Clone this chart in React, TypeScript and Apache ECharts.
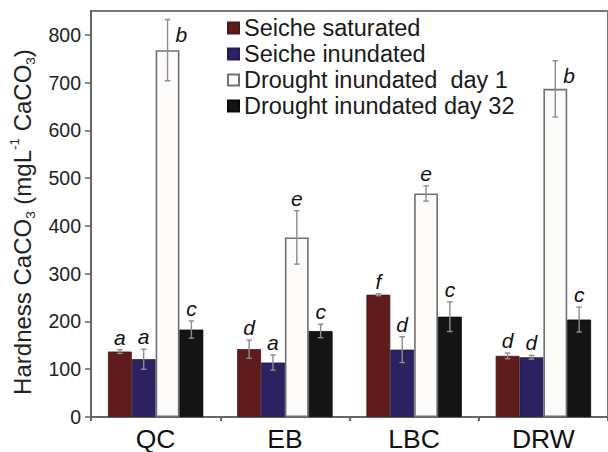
import React, { useEffect, useRef } from "react";
import * as echarts from "echarts";

const categories = ["QC", "EB", "LBC", "DRW"];
const seriesNames = [
  "Seiche saturated",
  "Seiche inundated",
  "Drought inundated  day 1",
  "Drought inundated day 32",
];
const seicheSaturated = [137, 142, 256, 128];
const seicheSaturatedErr = [4, 19, 2, 6];
const seicheInundated = [121, 114, 141, 125];
const seicheInundatedErr = [21, 16, 27, 4];
const droughtDay1 = [768, 376, 468, 687];
const droughtDay1Err = [64, 56, 16, 59];
const droughtDay32 = [183, 180, 210, 204];
const droughtDay32Err = [18, 14, 31, 26];

const lettersSS = ["a", "d", "f", "d"];
const lettersSI = ["a", "a", "d", "d"];
const lettersD1 = ["b", "e", "e", "b"];
const lettersD32 = ["c", "c", "c", "c"];
const placeD1 = ["right", "top", "top", "right"];

const yTicks = [0, 100, 200, 300, 400, 500, 600, 700, 800];
const yTitle = "{n|Hardness CaCO}{sub|3}{n| (mgL}{sup|-1}{n| CaCO}{sub|3}{n|)}";

const FONT = "'Liberation Sans', Arial, sans-serif";
const GAP = 0.262;

export default function App() {
  const ref = useRef<HTMLDivElement>(null);
  useEffect(() => {
    if (!ref.current) return;
    const chart = echarts.init(ref.current, undefined, { renderer: "svg" });

    const values = [seicheSaturated, seicheInundated, droughtDay1, droughtDay32];
    const errs = [seicheSaturatedErr, seicheInundatedErr, droughtDay1Err, droughtDay32Err];
    const letters = [lettersSS, lettersSI, lettersD1, lettersD32];
    const places = [
      ["top", "top", "top", "top"],
      ["top", "top", "top", "top"],
      placeD1,
      ["top", "top", "top", "top"],
    ];
    const styles = [
      { color: "#5e1c1c", borderColor: "#4e1616", borderWidth: 0.8 },
      { color: "#2c2262", borderColor: "#241b52", borderWidth: 0.8 },
      { color: "#fdfafa", borderColor: "#707070", borderWidth: 1.6 },
      { color: "#141414", borderColor: "#0a0a0a", borderWidth: 0.8 },
    ];

    const bars = values.map((v, i) => ({
      name: seriesNames[i],
      type: "bar",
      data: v,
      barGap: "0%",
      barCategoryGap: GAP * 100 + "%",
      itemStyle: styles[i],
      z: 2,
    }));

    const errSeries = values.map((v, i) => ({
      name: "err" + i,
      type: "custom",
      z: 5,
      clip: false,
      data: v.map((m, ci) => [ci, m, errs[i][ci]]),
      encode: { x: 0, y: 1 },
      renderItem: (params: any, api: any) => {
        const ci = api.value(0);
        const mean = api.value(1);
        const err = api.value(2);
        const base = api.coord([ci, mean]);
        const band = api.size([1, 0])[0];
        const bw = (band * (1 - GAP)) / 4;
        const cx = base[0] + (i - 1.5) * bw;
        const top = api.coord([ci, mean + err])[1];
        const bot = api.coord([ci, mean - err])[1];
        const cap = 2.8;
        const ls = { stroke: "#8c8c8c", lineWidth: 1.4 };
        const letter = letters[i][ci];
        const place = places[i][ci];
        const textEl =
          place === "right"
            ? {
                type: "text",
                style: {
                  text: letter,
                  x: cx + 8,
                  y: top + 15,
                  align: "left",
                  verticalAlign: "middle",
                  fontSize: 21,
                  fontStyle: "italic",
                  fontFamily: FONT,
                  fill: "#111",
                },
              }
            : {
                type: "text",
                style: {
                  text: letter,
                  x: cx,
                  y: top - 2,
                  align: "center",
                  verticalAlign: "bottom",
                  fontSize: 21,
                  fontStyle: "italic",
                  fontFamily: FONT,
                  fill: "#111",
                },
              };
        return {
          type: "group",
          children: [
            { type: "line", shape: { x1: cx, y1: top, x2: cx, y2: bot }, style: ls },
            { type: "line", shape: { x1: cx - cap, y1: top, x2: cx + cap, y2: top }, style: ls },
            { type: "line", shape: { x1: cx - cap, y1: bot, x2: cx + cap, y2: bot }, style: ls },
            textEl,
          ],
        };
      },
    }));

    chart.setOption({
      animation: false,
      backgroundColor: "#ffffff",
      textStyle: { fontFamily: FONT },
      legend: {
        data: seriesNames,
        orient: "vertical",
        left: 227,
        top: 16,
        padding: 0,
        itemWidth: 11,
        itemHeight: 11,
        itemGap: 2,
        icon: "rect",
        selectedMode: false,
        textStyle: { fontSize: 23.5, color: "#1a1a1a", fontFamily: FONT, lineHeight: 23.5 },
      },
      graphic: [
        {
          type: "text",
          x: 22,
          y: 222,
          rotation: Math.PI / 2,
          style: {
            text: yTitle,
            align: "center",
            verticalAlign: "middle",
            rich: {
              n: { fontSize: 24, lineHeight: 30, fill: "#222", fontFamily: FONT, verticalAlign: "middle" },
              sub: { fontSize: 13.5, lineHeight: 13, fill: "#222", fontFamily: FONT, verticalAlign: "bottom" },
              sup: { fontSize: 13.5, lineHeight: 13, fill: "#222", fontFamily: FONT, verticalAlign: "top" },
            },
          },
        },
      ],
      grid: {
        left: 91,
        top: 11,
        width: 526,
        height: 409.5,
        show: true,
        borderColor: "#777",
        borderWidth: 2,
        backgroundColor: "transparent",
      },
      xAxis: {
        type: "category",
        data: categories,
        axisLine: { lineStyle: { color: "#666", width: 2 } },
        axisTick: { show: true, length: 4, lineStyle: { color: "#666", width: 2 } },
        axisLabel: { fontSize: 26.5, color: "#111", margin: 8, fontFamily: FONT },
      },
      yAxis: {
        type: "value",
        min: 0,
        max: 850,
        interval: 100,
        axisLine: { show: true, lineStyle: { color: "#666", width: 2 } },
        axisTick: { show: true, length: 6, lineStyle: { color: "#666", width: 1.5 } },
        axisLabel: {
          fontSize: 19.5,
          color: "#222",
          margin: 10,
          fontFamily: FONT,
          showMaxLabel: false,
          formatter: (v: number) => (yTicks.indexOf(v) >= 0 ? String(v) : ""),
        },
        splitLine: { show: false },
      },
      series: [...bars, ...errSeries],
    });
    return () => chart.dispose();
  }, []);
  return (
    <div
      ref={ref}
      style={{ position: "fixed", left: 0, top: 0, width: 608, height: 452 }}
    />
  );
}
